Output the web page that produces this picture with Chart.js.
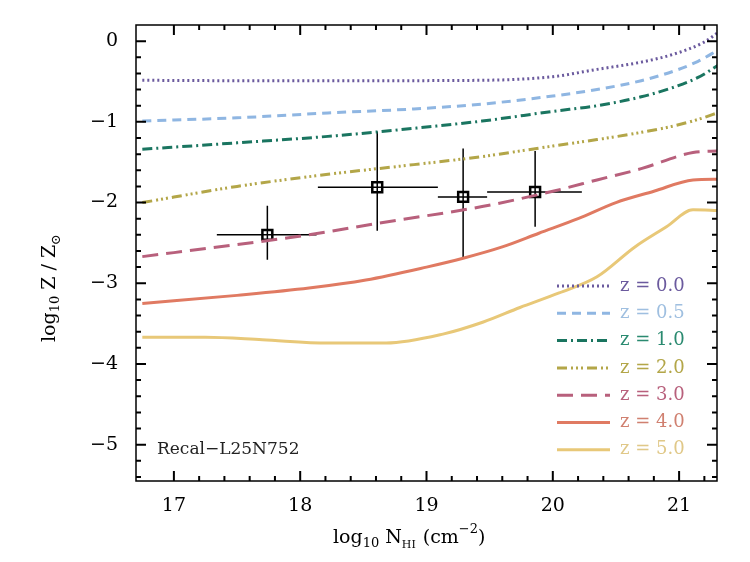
<!DOCTYPE html>
<html><head><meta charset="utf-8">
<script src="https://cdn.jsdelivr.net/npm/chart.js@4/dist/chart.umd.min.js"></script>
<style>body{margin:0;background:#fff}#w{width:750px;height:562px}</style>
</head><body><div id="w"><canvas id="c"></canvas></div>
<script>
const labels = ['z = 0.0','z = 0.5','z = 1.0','z = 2.0','z = 3.0','z = 4.0','z = 5.0'];
const z00x=[16.75,17.5,18.5,19.44,20.0,20.35,20.7,20.96,21.2,21.32];
const z00y=[-0.485,-0.49,-0.49,-0.485,-0.44,-0.35,-0.26,-0.16,-0.01,0.12];
const z05x=[16.75,17.5,18.22,18.9,19.44,20.0,20.35,20.7,20.96,21.15,21.32];
const z05y=[-0.99,-0.95,-0.89,-0.84,-0.78,-0.68,-0.6,-0.49,-0.37,-0.25,-0.1];
const z10x=[16.75,17.5,18.22,18.9,19.44,20.0,20.35,20.7,20.96,21.15,21.32];
const z10y=[-1.34,-1.26,-1.18,-1.08,-0.99,-0.87,-0.8,-0.69,-0.57,-0.45,-0.29];
const z20x=[16.75,17.5,18.22,18.9,19.44,20.0,20.35,20.7,20.96,21.15,21.32];
const z20y=[-2.0,-1.8,-1.65,-1.53,-1.43,-1.3,-1.22,-1.13,-1.05,-0.97,-0.88];
const z30x=[16.75,17.5,18.07,18.6,19.44,20.0,20.35,20.7,21.11,21.32];
const z30y=[-2.67,-2.52,-2.4,-2.26,-2.05,-1.86,-1.72,-1.58,-1.38,-1.36];
const z40x=[16.75,17.5,18.07,18.52,19.0,19.29,19.6,19.89,20.2,20.5,20.8,21.11,21.32];
const z40y=[-3.25,-3.15,-3.06,-2.96,-2.8,-2.69,-2.55,-2.38,-2.2,-2.0,-1.86,-1.72,-1.71];
const z50x=[16.75,17.25,17.7,18.22,18.68,19.13,19.45,19.74,20.05,20.35,20.65,20.9,21.11,21.32];
const z50y=[-3.67,-3.67,-3.7,-3.74,-3.74,-3.63,-3.48,-3.3,-3.12,-2.92,-2.55,-2.3,-2.09,-2.1];
const obsX=[17.74,18.61,19.29,19.86];
const obsY=[-2.4,-1.81,-1.93,-1.87];
const obsXlo=[17.34,18.14,19.09,19.48];
const obsXhi=[18.13,19.09,19.48,20.23];
const obsYlo=[-2.71,-2.35,-2.70,-2.30];
const obsYhi=[-2.04,-1.12,-1.33,-1.36];
const xTicks=[17,18,19,20,21];
const yTicks=[0,-1,-2,-3,-4,-5];

const colors=['#6b5a9e','#8fb6e2','#1a7560','#b3a648','#b8607c','#e07a62','#e8c878'];
const textColors=['#6b5a9e','#9fbfe0','#2a8a70','#b3a648','#b8607c','#d08070','#e0c888'];
const dashes=[[2,3],[9,6],[10,4,2,4],[10,4,2,3,2,3,2,4],[16,8],[],[]];
const xs=[z00x,z05x,z10x,z20x,z30x,z40x,z50x], ys=[z00y,z05y,z10y,z20y,z30y,z40y,z50y];
const datasets=labels.map((l,i)=>({label:l,data:xs[i].map((x,j)=>({x,y:ys[i][j]})),showLine:true,borderColor:colors[i],borderWidth:3,borderDash:dashes[i],pointRadius:0,cubicInterpolationMode:'monotone',fill:false}));
datasets.push({label:'obs',data:obsX.map((x,i)=>({x,y:obsY[i]})),showLine:false,pointStyle:'rect',pointRadius:7,borderColor:'#000',borderWidth:2.5,backgroundColor:'rgba(0,0,0,0)'});

const deco={id:'deco',beforeDatasetsDraw(ch){
 const c=ch.ctx,x=ch.scales.x,y=ch.scales.y;
 c.save();c.strokeStyle='#000';c.lineWidth=1.5;
 obsX.forEach((v,i)=>{c.beginPath();
  c.moveTo(x.getPixelForValue(obsXlo[i]),y.getPixelForValue(obsY[i]));c.lineTo(x.getPixelForValue(obsXhi[i]),y.getPixelForValue(obsY[i]));
  c.moveTo(x.getPixelForValue(v),y.getPixelForValue(obsYlo[i]));c.lineTo(x.getPixelForValue(v),y.getPixelForValue(obsYhi[i]));c.stroke();});
 c.restore();},
afterDatasetsDraw(ch){
 const c=ch.ctx,x=ch.scales.x,y=ch.scales.y,a=ch.chartArea;
 c.save();
 c.strokeStyle='#000';c.lineWidth=1.5;c.setLineDash([]);
 c.strokeRect(a.left,a.top,a.right-a.left,a.bottom-a.top);
 c.lineWidth=2;
 for(let v=17;v<=21.3;v+=0.2){const p=x.getPixelForValue(v);const maj=Math.abs(v-Math.round(v))<0.01;const L=maj?10:5;
  c.beginPath();c.moveTo(p,a.bottom);c.lineTo(p,a.bottom-L);c.moveTo(p,a.top);c.lineTo(p,a.top+L);c.stroke();}
 for(let v=-5.4;v<=0.2;v+=0.2){const p=y.getPixelForValue(v);const maj=Math.abs(v-Math.round(v))<0.01;const L=maj?10:5;
  c.beginPath();c.moveTo(a.left,p);c.lineTo(a.left+L,p);c.moveTo(a.right,p);c.lineTo(a.right-L,p);c.stroke();}
 c.font='18px "DejaVu Serif"';c.textBaseline='middle';
 labels.forEach((l,i)=>{const yy=286+i*27.3;c.strokeStyle=colors[i];c.lineWidth=3;c.setLineDash(dashes[i]);
  c.beginPath();c.moveTo(557,yy);c.lineTo(610,yy);c.stroke();c.setLineDash([]);c.fillStyle=textColors[i];c.textAlign='left';c.fillText(l,620,yy);});
 c.fillStyle='#222';c.font='17px "DejaVu Serif"';c.fillText('Recal\u2212L25N752',157,450);
 c.fillStyle='#000';c.font='19px "DejaVu Serif"';c.textAlign='left';
 let tx=333,ty=538;c.fillText('log',tx,ty);tx+=c.measureText('log').width;
 c.font='13px "DejaVu Serif"';c.fillText('10',tx,ty+6);tx+=c.measureText('10').width+6;
 c.font='19px "DejaVu Serif"';c.fillText('N',tx,ty);tx+=c.measureText('N').width;
 c.font='11px "DejaVu Serif"';c.fillText('HI',tx,ty+7);tx+=c.measureText('HI').width+7;
 c.font='19px "DejaVu Serif"';c.fillText('(cm',tx,ty);tx+=c.measureText('(cm').width;
 c.font='13px "DejaVu Serif"';c.fillText('\u22122',tx,ty-8);tx+=c.measureText('\u22122').width;
 c.font='19px "DejaVu Serif"';c.fillText(')',tx,ty);
 c.translate(50,342);c.rotate(-Math.PI/2);tx=0;ty=0;
 c.fillText('log',tx,ty);tx+=c.measureText('log').width;
 c.font='13px "DejaVu Serif"';c.fillText('10',tx,ty+6);tx+=c.measureText('10').width+6;
 c.font='19px "DejaVu Serif"';c.fillText('Z / Z',tx,ty);tx+=c.measureText('Z / Z').width;
 c.font='13px "DejaVu Serif"';c.fillText('\u2299',tx,ty+7);
 c.restore();}};

new Chart(document.getElementById('c'),{type:'scatter',data:{datasets},
options:{responsive:true,maintainAspectRatio:false,animation:false,
 layout:{padding:{top:25,right:33,left:0,bottom:0}},
 plugins:{legend:{display:false},tooltip:{enabled:false}},
 scales:{
  x:{type:'linear',min:16.7,max:21.3,grid:{display:false},border:{display:false},
   afterBuildTicks:s=>{s.ticks=xTicks.map(v=>({value:v}));},
   afterFit:s=>{s.height=81;},
   ticks:{color:'#000',font:{family:'DejaVu Serif',size:19},padding:6,callback:v=>String(v)}},
  y:{type:'linear',min:-5.45,max:0.2,grid:{display:false},border:{display:false},
   afterBuildTicks:s=>{s.ticks=yTicks.map(v=>({value:v}));},
   afterFit:s=>{s.width=136;},
   ticks:{color:'#000',font:{family:'DejaVu Serif',size:19},padding:10,callback:v=>v===0?'0':'\u2212'+Math.abs(v)}}
 }},plugins:[deco]});
</script></body></html>
